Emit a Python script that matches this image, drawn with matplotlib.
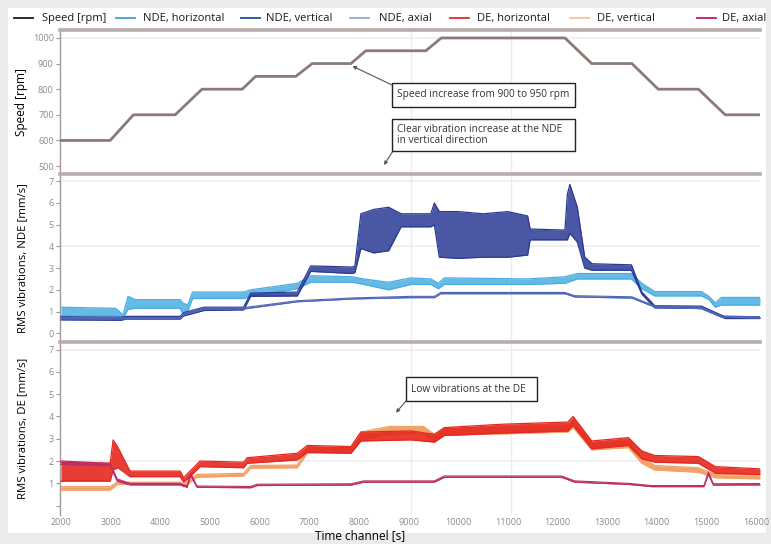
import matplotlib
matplotlib.use('Agg')
import matplotlib.pyplot as plt
from matplotlib.lines import Line2D
from matplotlib.patches import Rectangle

plt.rcParams['font.family'] = ['Open Sans', 'DejaVu Sans']

# ---------------- data ----------------
legend_labels = ["Speed [rpm]", "NDE, horizontal", "NDE, vertical", "NDE, axial",
                 "DE, horizontal", "DE, vertical", "DE, axial"]

speed_t = [2000, 2990, 3460, 4300, 4840, 5650, 5920, 6730, 7060, 7840, 8140, 9350,
           9660, 12150, 12690, 13500, 14030, 14840, 15380, 16080]
speed_v = [600, 600, 700, 700, 800, 800, 850, 850, 900, 900, 950, 950,
           1000, 1000, 900, 900, 800, 800, 700, 700]

# NDE vertical (low / high envelope)
ndev_t = [2000, 3200, 3330, 4400, 4470, 4880, 5680, 5820, 6760, 7030, 7870, 7920,
          8040, 8300, 8600, 8850, 9450, 9520, 9620, 10000, 10500, 11000, 11400,
          11450, 12150, 12200, 12250, 12400, 12550, 12700, 13490, 13700, 13960,
          14900, 15180, 15380, 16080]
ndev_lo = [0.62, 0.60, 0.66, 0.66, 0.80, 1.05, 1.08, 1.70, 1.72, 2.85, 2.75, 2.80,
           3.90, 3.70, 3.80, 4.90, 4.90, 5.00, 3.50, 3.45, 3.50, 3.50, 3.60,
           4.30, 4.30, 4.30, 4.60, 4.20, 3.00, 2.90, 2.90, 1.80, 1.17,
           1.15, 0.88, 0.68, 0.68]
ndev_hi = [0.76, 0.74, 0.78, 0.78, 0.95, 1.20, 1.20, 1.85, 1.90, 3.10, 3.05, 3.10,
           5.50, 5.70, 5.80, 5.50, 5.50, 6.00, 5.60, 5.60, 5.50, 5.60, 5.40,
           4.80, 4.75, 6.40, 6.85, 5.80, 3.50, 3.20, 3.15, 1.90, 1.27,
           1.25, 0.96, 0.76, 0.76]

# NDE horizontal
ndeh_t = [2000, 3100, 3250, 3350, 3500, 4400, 4450, 4550, 4650, 5680, 5820, 6760,
          7030, 7870, 8100, 8600, 9050, 9450, 9600, 9720, 11400, 12150, 12400,
          13490, 13700, 13960, 14900, 15050, 15180, 15300, 16080]
ndeh_lo = [0.80, 0.80, 0.70, 1.10, 1.15, 1.15, 0.90, 1.00, 1.60, 1.60, 1.70, 2.05,
           2.35, 2.35, 2.25, 2.00, 2.25, 2.25, 2.05, 2.25, 2.25, 2.30, 2.50,
           2.50, 2.05, 1.72, 1.72, 1.55, 1.20, 1.30, 1.30]
ndeh_hi = [1.20, 1.15, 0.85, 1.70, 1.55, 1.55, 1.40, 1.30, 1.90, 1.90, 2.00, 2.30,
           2.65, 2.60, 2.50, 2.35, 2.55, 2.50, 2.30, 2.55, 2.50, 2.60, 2.75,
           2.75, 2.30, 1.92, 1.92, 1.70, 1.40, 1.65, 1.65]

# NDE axial
ndea_t = [2000, 4400, 4470, 4880, 5680, 6760, 7900, 9050, 9520, 9650, 12150, 12350,
          13500, 13960, 14900, 15300, 16080]
ndea_lo = [0.66, 0.66, 0.85, 1.10, 1.12, 1.45, 1.58, 1.64, 1.64, 1.82, 1.82, 1.67,
           1.62, 1.20, 1.13, 0.74, 0.70]
ndea_hi = [0.72, 0.72, 0.92, 1.17, 1.18, 1.50, 1.63, 1.70, 1.70, 1.88, 1.88, 1.73,
           1.68, 1.26, 1.19, 0.80, 0.76]

# DE horizontal
deh_t = [2000, 2990, 3050, 3150, 3390, 4400, 4470, 4600, 4800, 5680, 5750, 6760,
         6960, 7840, 8040, 9050, 9520, 9720, 10870, 12210, 12315, 12690, 13430,
         13700, 13960, 14840, 15180, 16080]
deh_lo = [1.10, 1.10, 1.60, 1.70, 1.30, 1.30, 1.05, 1.30, 1.75, 1.70, 1.90, 2.05,
          2.40, 2.35, 2.90, 2.95, 2.85, 3.15, 3.25, 3.35, 3.60, 2.55, 2.70,
          2.10, 1.95, 1.90, 1.45, 1.40]
deh_hi = [2.00, 1.90, 2.95, 2.60, 1.55, 1.55, 1.25, 1.55, 2.00, 1.95, 2.15, 2.35,
          2.70, 2.65, 3.30, 3.35, 3.20, 3.50, 3.65, 3.75, 4.00, 2.90, 3.05,
          2.45, 2.25, 2.20, 1.75, 1.65]

# DE vertical
dev_t = [2000, 2990, 3130, 4400, 4470, 4740, 5680, 5820, 6760, 6960, 7840, 8040,
         8600, 9300, 9520, 9720, 12210, 12315, 12690, 13430, 13700, 13960, 14840,
         15180, 16080]
dev_lo = [0.70, 0.70, 0.95, 0.95, 0.85, 1.27, 1.33, 1.68, 1.70, 2.35, 2.35, 2.95,
          3.20, 3.25, 2.85, 3.15, 3.30, 3.50, 2.50, 2.60, 1.90, 1.60, 1.50,
          1.25, 1.20]
dev_hi = [0.85, 0.85, 1.05, 1.05, 0.95, 1.40, 1.45, 1.80, 1.82, 2.60, 2.60, 3.30,
          3.55, 3.55, 3.20, 3.45, 3.60, 3.80, 2.80, 2.90, 2.15, 1.80, 1.70,
          1.40, 1.35]

# DE axial
dea_t = [2000, 2990, 3130, 3390, 4400, 4540, 4610, 4740, 5820, 5950, 7840, 8100,
         9520, 9720, 12080, 12350, 13430, 13900, 14950, 15040, 15140, 16080]
dea_lo = [1.85, 1.80, 1.10, 0.93, 0.93, 0.82, 1.35, 0.82, 0.80, 0.90, 0.92, 1.05,
          1.05, 1.27, 1.27, 1.05, 0.95, 0.85, 0.85, 1.40, 0.92, 0.93]
dea_hi = [1.95, 1.90, 1.20, 1.00, 1.00, 0.88, 1.45, 0.88, 0.86, 0.96, 0.98, 1.11,
          1.11, 1.33, 1.33, 1.11, 1.00, 0.90, 0.90, 1.50, 0.98, 0.99]

x_ticks = [2000, 3000, 4000, 5000, 6000, 7000, 8000, 9000, 10000, 11000, 12000,
           13000, 14000, 15000, 16000]
speed_ticks = [500, 600, 700, 800, 900, 1000]
vib_ticks = [0, 1, 2, 3, 4, 5, 6, 7]
vib_labels_nde = ["0", "1", "2", "3", "4", "5", "6", "7"]
vib_labels_de = ["", "1", "2", "3", "4", "5", "6", "7"]

# ---------------- figure ----------------
W, H = 771, 544
fig = plt.figure(figsize=(W / 100, H / 100), dpi=100, facecolor='#ebebeb')


def fx(x):
    return x / W


def fy(y):
    return 1 - y / H


fig.patches.append(Rectangle((fx(8), fy(533)), fx(766) - fx(8), fy(8) - fy(533),
                             transform=fig.transFigure, facecolor='white',
                             edgecolor='none', zorder=-10))

L, R = 60, 760


def add_ax(top, bottom, **kw):
    return fig.add_axes([fx(L), fy(bottom), fx(R) - fx(L), fy(top) - fy(bottom)], **kw)


ax1 = add_ax(30, 174)
ax2 = add_ax(174, 342, sharex=ax1)
ax3 = add_ax(342, 515, sharex=ax1)

for ax in (ax1, ax2, ax3):
    ax.set_facecolor('none')
    ax.spines['right'].set_visible(False)
    ax.spines['bottom'].set_visible(False)
    ax.spines['top'].set_color('#b8adaa')
    ax.spines['top'].set_linewidth(2.6)
    ax.spines['left'].set_color('#a39895')
    ax.spines['left'].set_linewidth(1.0)
    ax.tick_params(axis='y', length=3, width=0.8, color='#999999', labelsize=6.5,
                   labelcolor='#8a8a8a', pad=1.5)
    ax.tick_params(axis='x', length=0, labelsize=6.5, labelcolor='#8a8a8a', pad=2)
    for xv in (9050, 11070):
        ax.axvline(xv, color='#ececec', lw=1.0, zorder=0)

ax1.set_xlim(1980, 16080)
ax1.set_ylim(469, 1031)
ax2.set_ylim(-0.40, 7.33)
ax3.set_ylim(-0.42, 7.34)

ax1.axhline(1000, color='#eeeeee', lw=1.2, zorder=0)
ax2.axhline(7, color='#eeeeee', lw=1.2, zorder=0)
ax2.axhline(4, color='#eeeeee', lw=1.2, zorder=0)
ax3.axhline(7, color='#eeeeee', lw=1.2, zorder=0)
ax3.axhline(2, color='#eeeeee', lw=1.2, zorder=0)

ax1.set_yticks(speed_ticks)
ax1.set_yticklabels([str(v) for v in speed_ticks])
ax2.set_yticks(vib_ticks)
ax2.set_yticklabels(vib_labels_nde)
ax3.set_yticks(vib_ticks)
ax3.set_yticklabels(vib_labels_de)
ax3.set_xticks(x_ticks)
ax3.set_xticklabels([str(v) for v in x_ticks])
ax1.tick_params(axis='x', labelbottom=False)
ax2.tick_params(axis='x', labelbottom=False)


def band(ax, t, lo, hi, color, lw=0.9, z=2, alpha=1.0):
    ax.fill_between(t, lo, hi, color=color, lw=0, zorder=z, alpha=alpha)
    ax.plot(t, lo, color=color, lw=lw, zorder=z)
    ax.plot(t, hi, color=color, lw=lw, zorder=z)


col_speed = '#8a7b77'
col_ndeh = '#4aaee2'
col_ndev = '#2a3a95'
col_ndea = '#5066b8'
col_deh = '#e5281f'
col_dev = '#f2a266'
col_dea = '#b92e66'

ax1.plot(speed_t, speed_v, color=col_speed, lw=2.0, zorder=3)

band(ax2, ndeh_t, ndeh_lo, ndeh_hi, col_ndeh, z=2, alpha=0.85)
band(ax2, ndev_t, ndev_lo, ndev_hi, col_ndev, z=3, alpha=0.85)
band(ax2, ndea_t, ndea_lo, ndea_hi, col_ndea, lw=0.8, z=4)

band(ax3, dev_t, dev_lo, dev_hi, col_dev, z=2)
band(ax3, deh_t, deh_lo, deh_hi, col_deh, z=3, alpha=0.9)
band(ax3, dea_t, dea_lo, dea_hi, col_dea, lw=0.8, z=4)

# axis labels
ax1.set_ylabel("Speed [rpm]", fontsize=8.5)
ax2.set_ylabel("RMS vibrations, NDE [mm/s]", fontsize=8.2)
ax3.set_ylabel("RMS vibrations, DE [mm/s]", fontsize=8.2)
for ax in (ax1, ax2, ax3):
    ax.yaxis.set_label_coords((28 - L) / (R - L), 0.5)
ax3.set_xlabel("Time channel [s]", fontsize=8.5)
ax3.xaxis.set_label_coords((360 - L) / (R - L), (515 - 529) / 173)

# legend (manual layout)
legend_colors = ['#1a1a1a', '#3aa3dc', '#1f4e9a', '#8ea9db', '#e03024', '#f5c39c', '#c2185b']
legend_line_x = [14, 116, 241, 350, 450, 570, 697]
legend_text_x = [42, 143, 266, 379, 477, 597, 722]
for lab, c, lx, tx in zip(legend_labels, legend_colors, legend_line_x, legend_text_x):
    fig.add_artist(Line2D([fx(lx), fx(lx + 19)], [fy(18), fy(18)], color=c, lw=1.3,
                          transform=fig.transFigure))
    fig.text(fx(tx), fy(18), lab, fontsize=8, va='center', ha='left', color='#1a1a1a')


# annotation boxes
def box(x0, y0, x1, y1, text):
    fig.patches.append(Rectangle((fx(x0), fy(y1)), fx(x1) - fx(x0), fy(y0) - fy(y1),
                                 transform=fig.transFigure, facecolor='white',
                                 edgecolor='#222222', lw=1.0, zorder=20))
    fig.text(fx(x0 + 5), (fy(y0) + fy(y1)) / 2, text, fontsize=7.3, va='center',
             ha='left', color='#333333', zorder=21, linespacing=1.05)


arrow_kw = dict(arrowstyle='-|>', color='#555555', lw=0.8, mutation_scale=5,
                shrinkA=0, shrinkB=0)

box(392, 83, 575, 107, "Speed increase from 900 to 950 rpm")
ax1.annotate('', xy=(7870, 890), xycoords='data',
             xytext=(fx(392), fy(85)), textcoords='figure fraction',
             arrowprops=arrow_kw, annotation_clip=False)

box(392, 119, 575, 151, "Clear vibration increase at the NDE\nin vertical direction")
ax1.annotate('', xy=(8505, 504), xycoords='data',
             xytext=(fx(393), fy(151)), textcoords='figure fraction',
             arrowprops=arrow_kw, annotation_clip=False)

box(406, 377, 537, 401, "Low vibrations at the DE")
ax3.annotate('', xy=(8747, 4.17), xycoords='data',
             xytext=(fx(406), fy(401)), textcoords='figure fraction',
             arrowprops=arrow_kw, annotation_clip=False)

fig.savefig('out.png', dpi=100, facecolor=fig.get_facecolor())
